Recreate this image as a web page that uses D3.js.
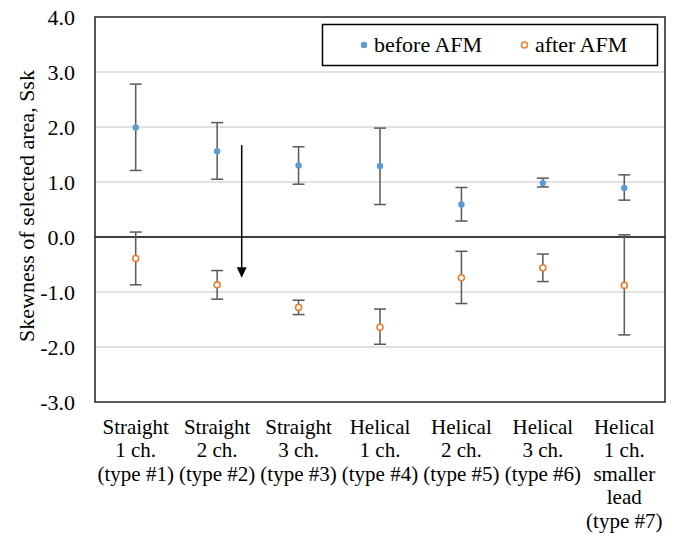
<!DOCTYPE html>
<html><head><meta charset="utf-8">
<script src="https://cdn.jsdelivr.net/npm/d3@7"></script>
<style>body{margin:0;background:#fff}svg{display:block}</style>
</head><body>
<svg id="c" width="676" height="543"></svg>
<script>
const categories = [
  ["Straight","1 ch.","(type #1)"],
  ["Straight","2 ch.","(type #2)"],
  ["Straight","3 ch.","(type #3)"],
  ["Helical","1 ch.","(type #4)"],
  ["Helical","2 ch.","(type #5)"],
  ["Helical","3 ch.","(type #6)"],
  ["Helical","1 ch.","smaller","lead","(type #7)"]
];
const beforeVals = [1.99, 1.56, 1.30, 1.29, 0.59, 0.98, 0.89];
const beforeHi   = [2.78, 2.08, 1.64, 1.98, 0.90, 1.07, 1.13];
const beforeLo   = [1.21, 1.05, 0.96, 0.59, 0.29, 0.91, 0.67];
const afterVals  = [-0.39, -0.87, -1.28, -1.64, -0.74, -0.56, -0.88];
const afterHi    = [0.09, -0.61, -1.15, -1.31, -0.26, -0.31, 0.04];
const afterLo    = [-0.87, -1.13, -1.41, -1.95, -1.21, -0.81, -1.78];
const yTicks = [4, 3, 2, 1, 0, -1, -2, -3];
const seriesNames = ["before AFM", "after AFM"];
const yTitle = "Skewness of selected area, Ssk";

const FONT = "'Liberation Serif', 'Times New Roman', serif";
const FS = 22;
const svg = d3.select("#c").attr("font-family", FONT);
const L = 95, R = 665, T = 17, B = 402;
const x = d3.scaleBand().domain(d3.range(categories.length)).range([L, R]);
const y = d3.scaleLinear().domain([-3, 4]).range([B, T]);

// gridlines
svg.append("g").selectAll("line").data(yTicks.filter(v => v !== 0 && v !== 4 && v !== -3)).join("line")
  .attr("x1", L).attr("x2", R).attr("y1", d => y(d)).attr("y2", d => y(d))
  .attr("stroke", "#d9d9d9").attr("stroke-width", 1.5);

// y axis labels
const fmt = d => d3.format(".1f")(d).replace("\u2212", "-");
const yAxis = d3.axisLeft(y).tickValues(yTicks).tickFormat(fmt).tickSize(0).tickPadding(20);
const ya = svg.append("g").attr("transform", `translate(${L},0)`).call(yAxis);
ya.attr("font-family", FONT).attr("font-size", FS);
ya.select(".domain").remove();
ya.selectAll("text").attr("fill", "#000");

// zero line
svg.append("line").attr("x1", L).attr("x2", R).attr("y1", y(0)).attr("y2", y(0))
  .attr("stroke", "#000").attr("stroke-width", 1.5);

// frame
svg.append("rect").attr("x", L).attr("y", T).attr("width", R - L).attr("height", B - T)
  .attr("fill", "none").attr("stroke", "#222").attr("stroke-width", 1.5);

// y title
svg.append("text").attr("transform", `translate(34,206) rotate(-90)`)
  .attr("text-anchor", "middle").attr("font-size", FS).text(yTitle);

// x labels: one text element per line
const cx = i => x(i) + x.bandwidth() / 2;
const XFS = 21, LH = 23.4;
const xl = svg.append("g").attr("text-anchor", "middle").attr("font-size", XFS);
categories.forEach((lines, i) => {
  lines.forEach((s, k) => {
    xl.append("text").attr("x", cx(i)).attr("y", 434 + k * LH).text(s);
  });
});

function errorBars(hi, lo) {
  const g = svg.append("g").attr("stroke", "#595959").attr("stroke-width", 1.5);
  hi.forEach((h, i) => {
    g.append("line").attr("x1", cx(i)).attr("x2", cx(i)).attr("y1", y(h)).attr("y2", y(lo[i]));
    g.append("line").attr("x1", cx(i) - 6).attr("x2", cx(i) + 6).attr("y1", y(h)).attr("y2", y(h));
    g.append("line").attr("x1", cx(i) - 6).attr("x2", cx(i) + 6).attr("y1", y(lo[i])).attr("y2", y(lo[i]));
  });
}
errorBars(beforeHi, beforeLo);
errorBars(afterHi, afterLo);

svg.append("g").selectAll("circle").data(beforeVals).join("circle")
  .attr("cx", (d, i) => cx(i)).attr("cy", d => y(d)).attr("r", 3.2).attr("fill", "#5b9bd5");
svg.append("g").selectAll("circle").data(afterVals).join("circle")
  .attr("cx", (d, i) => cx(i)).attr("cy", d => y(d)).attr("r", 3).attr("fill", "#fff")
  .attr("stroke", "#ed7d31").attr("stroke-width", 1.6);

// arrow (annotation)
const ax = 241.7;
svg.append("line").attr("x1", ax).attr("x2", ax).attr("y1", y(1.67)).attr("y2", y(-0.55))
  .attr("stroke", "#000").attr("stroke-width", 1.5);
svg.append("path").attr("d", `M${ax - 5},${y(-0.55)} L${ax + 5},${y(-0.55)} L${ax},${y(-0.74)} Z`).attr("fill", "#000");

// legend
svg.append("rect").attr("x", 322.5).attr("y", 24.5).attr("width", 335).attr("height", 41)
  .attr("fill", "#fff").attr("stroke", "#000").attr("stroke-width", 1.5);
svg.append("circle").attr("cx", 364).attr("cy", 45).attr("r", 3.2).attr("fill", "#5b9bd5");
svg.append("text").attr("x", 374).attr("y", 52).attr("font-size", FS).text(seriesNames[0]);
svg.append("circle").attr("cx", 524.5).attr("cy", 45).attr("r", 3).attr("fill", "#fff")
  .attr("stroke", "#ed7d31").attr("stroke-width", 1.6);
svg.append("text").attr("x", 535).attr("y", 52).attr("font-size", FS).text(seriesNames[1]);
</script>
</body></html>
